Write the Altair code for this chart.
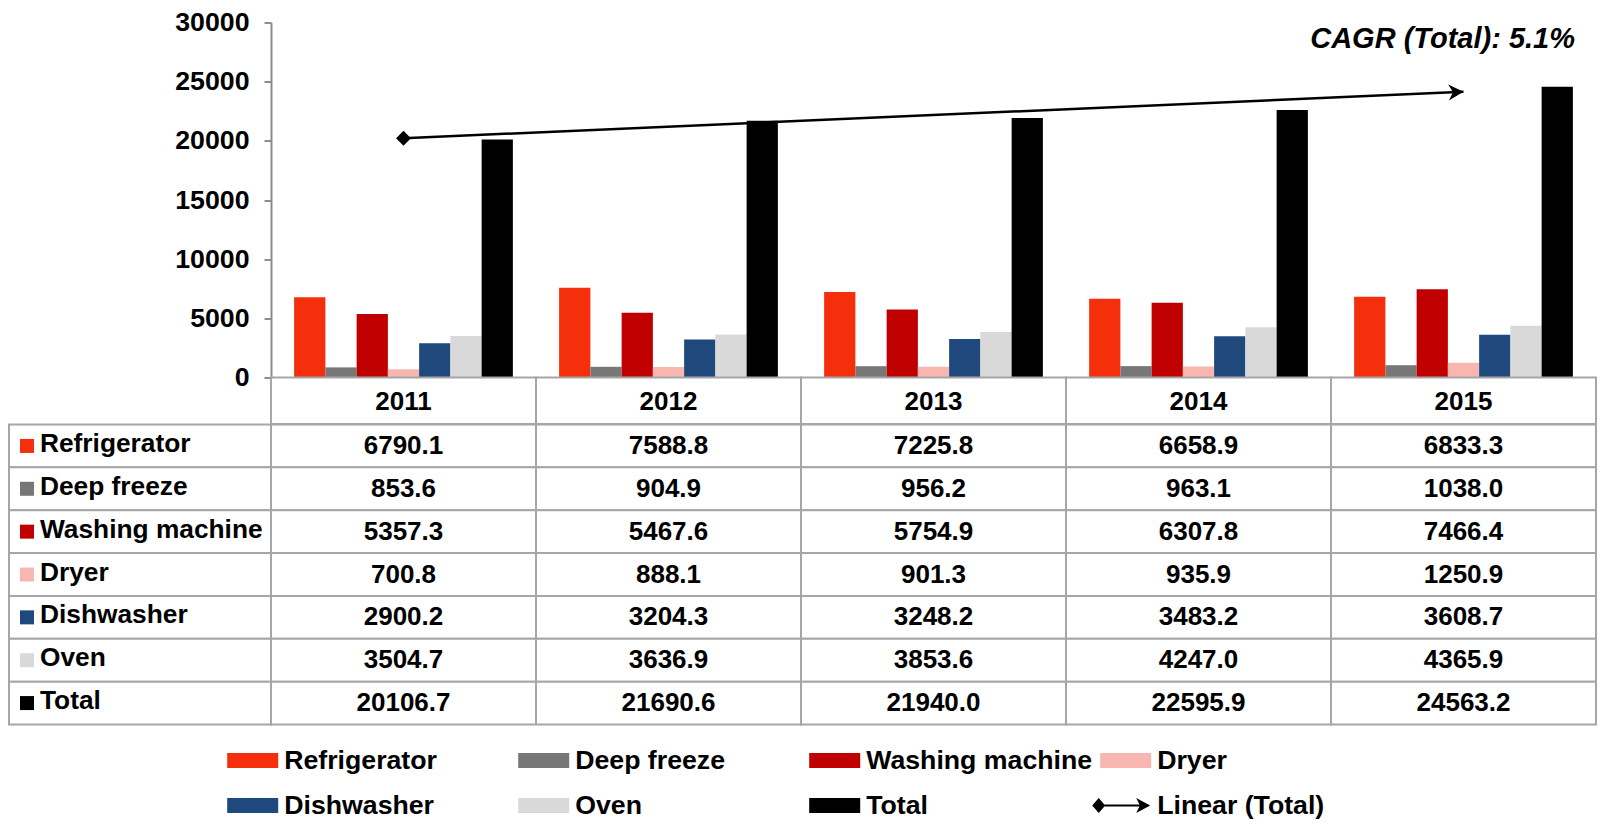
import altair as alt
import pandas as pd

# ---------------- data ----------------
years = ["2011", "2012", "2013", "2014", "2015"]
series = ["Refrigerator", "Deep freeze", "Washing machine", "Dryer",
          "Dishwasher", "Oven", "Total"]
refrigerator = [6790.1, 7588.8, 7225.8, 6658.9, 6833.3]
deep_freeze = [853.6, 904.9, 956.2, 963.1, 1038.0]
washing_machine = [5357.3, 5467.6, 5754.9, 6307.8, 7466.4]
dryer = [700.8, 888.1, 901.3, 935.9, 1250.9]
dishwasher = [2900.2, 3204.3, 3248.2, 3483.2, 3608.7]
oven = [3504.7, 3636.9, 3853.6, 4247.0, 4365.9]
total = [20106.7, 21690.6, 21940.0, 22595.9, 24563.2]
colors = ["#F52E0B", "#777777", "#C00000", "#F8B6B1", "#1F497D", "#D9D9D9", "#000000"]
y_ticks = [0, 5000, 10000, 15000, 20000, 25000, 30000]
cagr_label = "CAGR (Total): 5.1%"
trend_label = "Linear (Total)"

# ---------------- styles ----------------
FONT = "Liberation Sans"
GRID = "#a6a6a6"
AXIS_GRAY = "#8c8c8c"
SWATCH = "M0,-0.5 L3.4,-0.5 L3.4,0.5 L0,0.5 Z"
LINEAR_SYMBOL = ("M-0.533,0 L-0.1,-0.5 L0.333,0 L-0.1,0.5 Z "
                 "M0.3,-0.07 L2.8,-0.07 L2.8,0.07 L0.3,0.07 Z "
                 "M3.333,0 L2.4,0.5 L2.65,0 L2.4,-0.5 Z")
ARROW = "M0,0 L-1,-0.53 L-0.7,0 L-1,0.53 Z"
LABEL_FS = 26.7
ROWLABEL_FS = 26.3
VALUE_FS = 26

values_by_series = [refrigerator, deep_freeze, washing_machine, dryer,
                    dishwasher, oven, total]
df = pd.DataFrame([
    {"series": s, "year": y, "value": v}
    for s, vals in zip(series, values_by_series)
    for y, v in zip(years, vals)
])

x_years = alt.Scale(domain=years, paddingInner=0, paddingOuter=0)
color_scale = alt.Scale(domain=series, range=colors)
LABEL_W = 262
PLOT_W = 1325
PLOT_H = 355
HEAD_H = 46.5
BODY_H = 300
LEG_GAP = 36
LEG_STEP = 45
LEG_H = LEG_GAP + LEG_STEP


def blank(w, h):
    return alt.Chart(pd.DataFrame({"t": [""]})).mark_text().encode(
        text="t:N").properties(width=w, height=h)


# ---------------- top row: bars ----------------
y_enc = alt.Y(
    "value:Q",
    scale=alt.Scale(domain=[0, 30000], nice=False),
    axis=alt.Axis(values=y_ticks, format="d", title=None, grid=False,
                  tickSize=7, tickWidth=2, tickColor=AXIS_GRAY,
                  domainColor=AXIS_GRAY, domainWidth=2, labelPadding=15,
                  labelFont=FONT, labelFontSize=LABEL_FS, labelFontWeight="bold",
                  labelColor="black"),
)

bars = alt.Chart(df).mark_bar().encode(
    x=alt.X("year:N", scale=x_years, axis=None),
    xOffset=alt.XOffset("series:N", scale=alt.Scale(domain=series,
                                                    paddingInner=0,
                                                    paddingOuter=0.74)),
    y=y_enc,
    color=alt.Color("series:N", scale=color_scale, legend=None),
)

trend_base = (
    alt.Chart(df[df.series == "Total"])
    .transform_calculate(yr="toNumber(datum.year)")
    .transform_regression("yr", "value", method="linear")
    .transform_calculate(year="toString(datum.yr)")
)
trend_line = trend_base.mark_line(color="black", strokeWidth=2.5).encode(
    x=alt.X("year:N", scale=x_years, axis=None),
    y=alt.Y("value:Q"),
)
trend_start = trend_base.transform_filter(
    f"datum.year == '{years[0]}'").mark_point(
    shape="diamond", filled=True, size=220, color="black", opacity=1,
    strokeWidth=0).encode(x=alt.X("year:N", scale=x_years, axis=None),
                          y=alt.Y("value:Q"))
trend_end = trend_base.transform_filter(
    f"datum.year == '{years[-1]}'").mark_point(
    shape=ARROW, filled=True, size=900, angle=357.5, color="black",
    opacity=1, strokeWidth=0).encode(x=alt.X("year:N", scale=x_years, axis=None),
                                     y=alt.Y("value:Q"))

cagr = alt.Chart(pd.DataFrame({"label": [cagr_label]})).mark_text(
    font=FONT, fontSize=29, fontWeight="bold", fontStyle="italic",
    align="right", baseline="middle", color="black",
).encode(x=alt.value(1304), y=alt.value(16.8), text="label:N")

plot = alt.layer(bars, trend_line, trend_start, trend_end, cagr).properties(
    width=PLOT_W, height=PLOT_H)

# ---------------- table header (years) ----------------
head_df = pd.DataFrame({"year": years})
head_cells = alt.Chart(head_df).mark_rect(
    fill="white", stroke=GRID, strokeWidth=2).encode(
    x=alt.X("year:N", scale=x_years, axis=None))
head_text = alt.Chart(head_df).mark_text(
    font=FONT, fontSize=VALUE_FS, fontWeight="bold", color="black",
    baseline="middle", dy=1).encode(
    x=alt.X("year:N", scale=x_years, axis=None), text="year:N")
header_table = alt.layer(head_cells, head_text).properties(
    width=PLOT_W, height=HEAD_H)

# ---------------- table body ----------------
y_rows = alt.Scale(domain=series, paddingInner=0, paddingOuter=0)
cell_df = pd.DataFrame({
    "row": df.series,
    "year": df.year,
    "text": [f"{v:.1f}" for v in df.value],
})

cells = alt.Chart(cell_df).mark_rect(
    fill="white", stroke=GRID, strokeWidth=2).encode(
    x=alt.X("year:N", scale=x_years, axis=None),
    y=alt.Y("row:N", scale=y_rows, axis=None),
)
cell_text = alt.Chart(cell_df).mark_text(
    font=FONT, fontSize=VALUE_FS, fontWeight="bold", color="black",
    baseline="middle", dy=0).encode(
    x=alt.X("year:N", scale=x_years, axis=None),
    y=alt.Y("row:N", scale=y_rows, axis=None),
    text="text:N",
)
values_table = alt.layer(cells, cell_text).properties(
    width=PLOT_W, height=BODY_H)

label_df = pd.DataFrame({"row": series, "col": "label"})
x_label = alt.Scale(domain=["label"], paddingInner=0, paddingOuter=0)
label_cells = alt.Chart(label_df).mark_rect(
    fill="white", stroke=GRID, strokeWidth=2).encode(
    x=alt.X("col:N", scale=x_label, axis=None),
    y=alt.Y("row:N", scale=y_rows, axis=None),
)
label_sq = alt.Chart(label_df).mark_square(
    size=196, opacity=1, xOffset=18, strokeWidth=0).encode(
    x=alt.X("col:N", scale=x_label, axis=None, bandPosition=0),
    y=alt.Y("row:N", scale=y_rows, axis=None),
    color=alt.Color("row:N", scale=color_scale, legend=None),
)
label_text = alt.Chart(label_df).mark_text(
    font=FONT, fontSize=ROWLABEL_FS, fontWeight="bold", color="black",
    align="left", baseline="middle", dx=31, dy=-2).encode(
    x=alt.X("col:N", scale=x_label, axis=None, bandPosition=0),
    y=alt.Y("row:N", scale=y_rows, axis=None),
    text="row:N",
)
labels_table = alt.layer(label_cells, label_sq, label_text).properties(
    width=LABEL_W, height=BODY_H)

# ---------------- legend (drawn in the left cell, overflowing right) ----------------
legend_entries = series + [trend_label]
leg_df = pd.DataFrame({"entry": legend_entries})
leg_df["col"] = [i % 4 for i in range(len(legend_entries))]
leg_df["row"] = [i // 4 for i in range(len(legend_entries))]

LEG_X0 = 218.2   # px offset of first legend column
LEG_DX = 291.0   # px between legend columns
x_leg = alt.Scale(domain=[-LEG_X0 / LEG_DX, (LABEL_W - LEG_X0) / LEG_DX],
                  nice=False, zero=False)
y_leg = alt.Scale(domain=[-LEG_GAP / LEG_STEP, 1], reverse=True,
                  nice=False, zero=False)

leg_sw = alt.Chart(leg_df[leg_df.entry != trend_label]).mark_point(
    shape=SWATCH, filled=True, size=900, opacity=1, strokeWidth=0).encode(
    x=alt.X("col:Q", scale=x_leg, axis=None),
    y=alt.Y("row:Q", scale=y_leg, axis=None),
    color=alt.Color("entry:N", scale=color_scale, legend=None),
)
leg_lin = alt.Chart(leg_df[leg_df.entry == trend_label]).mark_point(
    shape=LINEAR_SYMBOL, filled=True, size=900, opacity=1, strokeWidth=0,
    color="black").encode(
    x=alt.X("col:Q", scale=x_leg, axis=None),
    y=alt.Y("row:Q", scale=y_leg, axis=None),
)
leg_txt = alt.Chart(leg_df).mark_text(
    font=FONT, fontSize=LABEL_FS, fontWeight="bold", color="black",
    align="left", baseline="middle", dx=57).encode(
    x=alt.X("col:Q", scale=x_leg, axis=None),
    y=alt.Y("row:Q", scale=y_leg, axis=None),
    text="entry:N",
)
legend_chart = alt.layer(leg_sw, leg_lin, leg_txt).properties(
    width=LABEL_W, height=LEG_H)

chart = alt.concat(
    blank(LABEL_W, PLOT_H), plot,
    blank(LABEL_W, HEAD_H), header_table,
    labels_table, values_table,
    legend_chart, blank(PLOT_W, LEG_H),
    columns=2, spacing=0, bounds="flush",
).properties(
    padding={"left": 0, "top": 1.5, "right": 0, "bottom": 0},
    background="white",
).configure_view(stroke=None)

chart.save("out.html", embed_options={"renderer": "svg", "actions": False})
